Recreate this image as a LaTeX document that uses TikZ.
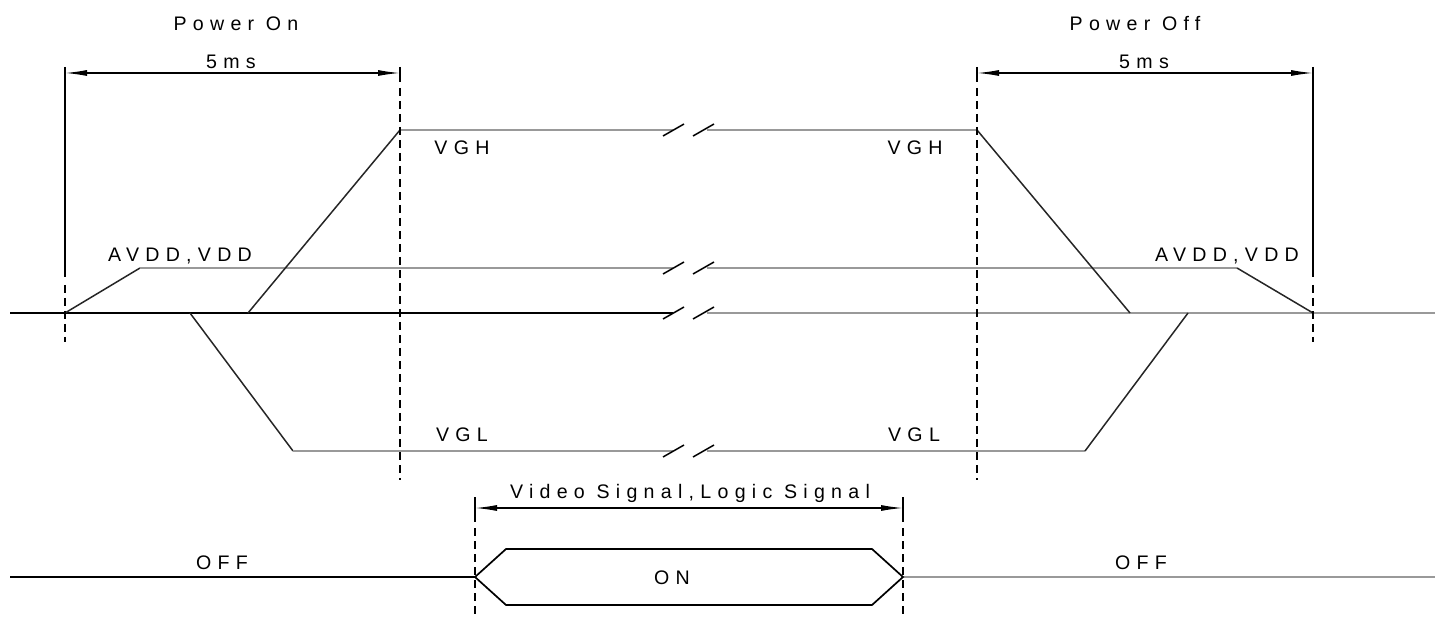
\documentclass[tikz,border=0pt]{standalone}
\usepackage{fontspec}
\setmainfont{Liberation Sans}
\newfontfamily\spc[LetterSpace=32]{Liberation Sans}
\usetikzlibrary{arrows.meta}
\begin{document}
\begin{tikzpicture}[x=0.5pt,y=-0.5pt,
  sig/.style={line width=0.75pt,black!85},
  lvl/.style={line width=1.3pt,black!40},
  base/.style={line width=0.85pt,black},
  dashv/.style={line width=0.75pt,dash pattern=on 4pt off 2.5pt},
  ext/.style={line width=0.65pt},
  dimarrow/.style={line width=0.65pt,{Latex[length=11pt,width=3pt]}-{Latex[length=11pt,width=3pt]}},
  lab/.style={font=\spc\fontsize{9.8}{11}\selectfont, inner sep=0pt},
  brk/.style={line width=0.75pt,black}]
\useasboundingbox (0,0) rectangle (1443,619);

% key coordinates
\coordinate (bl) at (10,313);
\coordinate (bm1) at (673,313);
\coordinate (bm2) at (707,313);
\coordinate (br) at (1435,313);
\coordinate (a0) at (65,313);
\coordinate (a1) at (140,268);
\coordinate (am1) at (673,268);
\coordinate (am2) at (707,268);
\coordinate (a2) at (1237,268);
\coordinate (a3) at (1313,313);
\coordinate (h0) at (248,313);
\coordinate (h1) at (400,130);
\coordinate (hm1) at (673,130);
\coordinate (hm2) at (707,130);
\coordinate (h2) at (977,130);
\coordinate (h3) at (1130,313);
\coordinate (l0) at (190,313);
\coordinate (l1) at (293,451);
\coordinate (lm1) at (673,451);
\coordinate (lm2) at (707,451);
\coordinate (l2) at (1085,451);
\coordinate (l3) at (1188,313);

% baseline
\draw[base] (bl) -- (bm1);
\draw[lvl] (bm2) -- (br);
% AVDD
\draw[sig] (a0) -- (a1);
\draw[lvl] (a1) -- (am1);
\draw[lvl] (am2) -- (a2);
\draw[sig] (a2) -- (a3);
% VGH
\draw[sig] (h0) -- (h1);
\draw[lvl] (h1) -- (hm1);
\draw[lvl] (hm2) -- (h2);
\draw[sig] (h2) -- (h3);
% VGL
\draw[sig] (l0) -- (l1);
\draw[lvl] (l1) -- (lm1);
\draw[lvl] (lm2) -- (l2);
\draw[sig] (l2) -- (l3);

% break marks
\foreach \yy in {130,268,313,451}{
  \draw[brk] (663,\yy+6) -- (684,\yy-6);
  \draw[brk] (693,\yy+6) -- (714,\yy-6);
}

% extension lines
\draw[ext] (65,67) -- (65,277);
\draw[dashv] (65,285) -- (65,342);
\draw[ext] (1313,67) -- (1313,277);
\draw[dashv] (1313,285) -- (1313,342);
\draw[ext] (400,67) -- (400,82);
\draw[dashv] (400,88) -- (400,480);
\draw[ext] (977,67) -- (977,82);
\draw[dashv] (977,88) -- (977,480);

% dimension arrows
\coordinate (d1a) at (65,73);
\coordinate (d1b) at (400,73);
\coordinate (d2a) at (977,73);
\coordinate (d2b) at (1313,73);
\draw[dimarrow] (d1a) -- (d1b);
\draw[dimarrow] (d2a) -- (d2b);

% video signal
\coordinate (v0) at (475,577);
\coordinate (v1) at (506,549);
\coordinate (v2) at (872,549);
\coordinate (v3) at (903,577);
\coordinate (v4) at (872,605);
\coordinate (v5) at (506,605);
\draw[base] (10,577) -- (v0);
\draw[lvl] (v3) -- (1435,577);
\draw[line width=0.85pt] (v0) -- (v1) -- (v2) -- (v3) -- (v4) -- (v5) -- cycle;
\draw[ext] (475,497) -- (475,522);
\draw[dashv] (475,528) -- (475,619);
\draw[ext] (903,497) -- (903,522);
\draw[dashv] (903,528) -- (903,619);
\coordinate (va) at (475,508);
\coordinate (vb) at (903,508);
\draw[dimarrow] (va) -- (vb);

% labels
\node[lab] (pon) at (236,24) {Power On};
\node[lab] (ms1) at (231,62) {5ms};
\node[lab] (poff) at (1135,24) {Power Off};
\node[lab] (ms2) at (1144,62) {5ms};
\node[lab] (vgh1) at (462,148) {VGH};
\node[lab] (vgh2) at (915,148) {VGH};
\node[lab] (avdd1) at (180,256) {AVDD,VDD};
\node[lab] (avdd2) at (1227,256) {AVDD,VDD};
\node[lab] (vgl1) at (462,435) {VGL};
\node[lab] (vgl2) at (914,435) {VGL};
\node[lab] (vs) at (690,493) {Video Signal,Logic Signal};
\node[lab] (on) at (672,578) {ON};
\node[lab] (off1) at (222,563) {OFF};
\node[lab] (off2) at (1141,563) {OFF};
\end{tikzpicture}
\end{document}
